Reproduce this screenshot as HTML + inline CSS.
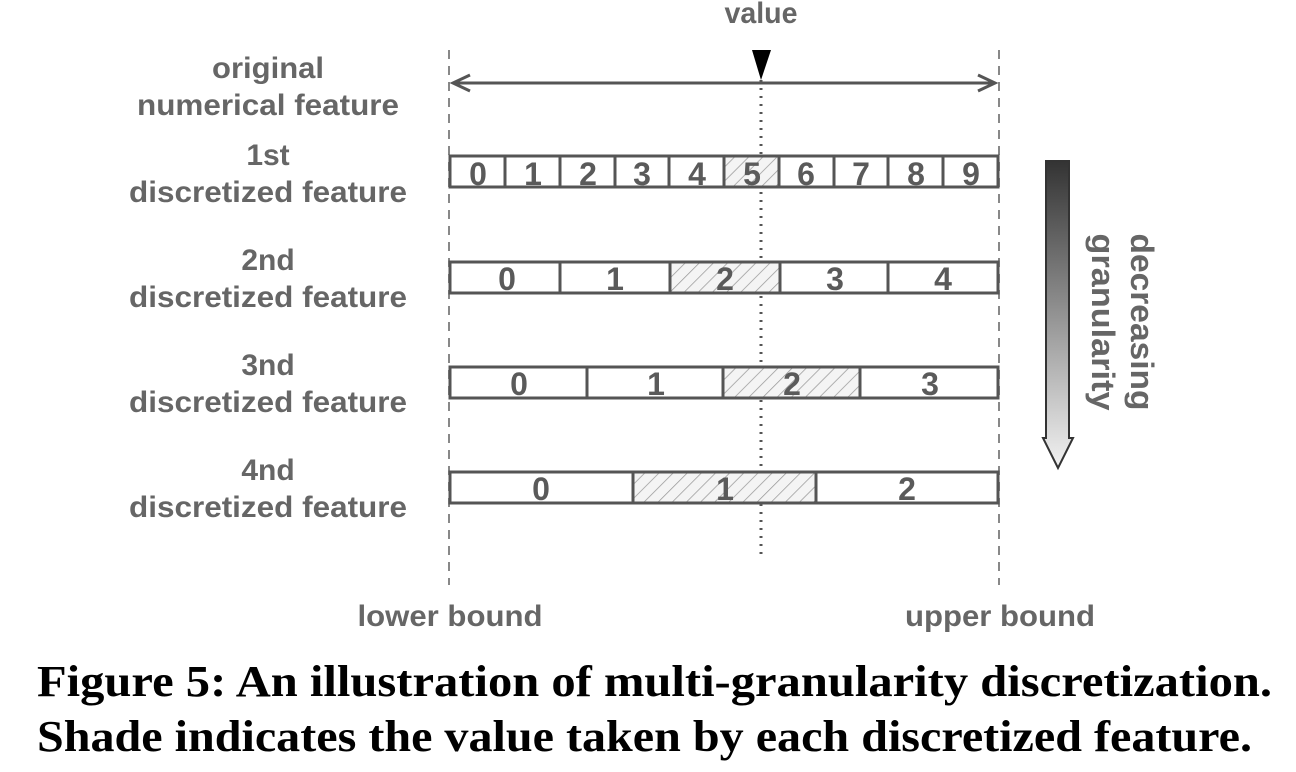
<!DOCTYPE html>
<html><head><style>body{margin:0;background:#fff}svg{display:block}</style></head>
<body>
<svg width="1296" height="772" xmlns="http://www.w3.org/2000/svg">
<defs>
<pattern id="h" patternUnits="userSpaceOnUse" width="10" height="10" patternTransform="rotate(45)">
<rect width="10" height="10" fill="#f4f4f4"/><line x1="0" y1="0" x2="0" y2="10" stroke="#999" stroke-width="1.5"/>
</pattern>
<linearGradient id="g" x1="0" y1="0" x2="0" y2="1"><stop offset="0" stop-color="#333"/><stop offset="1" stop-color="#f2f2f2"/></linearGradient>
</defs>
<g stroke="#888" stroke-width="2" stroke-dasharray="9,7"><line x1="449" y1="50" x2="449" y2="585"/><line x1="999" y1="50" x2="999" y2="585"/></g>
<line x1="761" y1="80" x2="761" y2="560" stroke="#555" stroke-width="3" stroke-dasharray="2,6"/>
<g stroke="#555" stroke-width="3" fill="none"><line x1="453" y1="83" x2="995" y2="83"/><polyline points="470,75 453,83 470,91"/><polyline points="978,75 995,83 978,91"/></g>
<polygon points="752,50 771,50 761,80" fill="#000"/>
<g fill="url(#h)"><rect x="724" y="156" width="55" height="31"/><rect x="670" y="262" width="110" height="31"/><rect x="723" y="367" width="137" height="31"/><rect x="633" y="472" width="183" height="31"/></g>
<g stroke="#555" stroke-width="3" fill="none">
<rect x="450" y="156" width="548" height="31"/>
<path d="M505 156V187M560 156V187M615 156V187M669 156V187M724 156V187M779 156V187M834 156V187M888 156V187M943 156V187"/>
<rect x="450" y="262" width="548" height="31"/><path d="M560 262V293M670 262V293M780 262V293M888 262V293"/>
<rect x="450" y="367" width="548" height="31"/><path d="M587 367V398M723 367V398M860 367V398"/>
<rect x="450" y="472" width="548" height="31"/><path d="M633 472V503M816 472V503"/>
</g>
<g font-family="Liberation Sans, sans-serif" font-weight="bold" fill="#5a5a5a" font-size="32" text-anchor="middle">
<text x="478" y="185">0</text><text x="533" y="185">1</text><text x="588" y="185">2</text><text x="642" y="185">3</text><text x="697" y="185">4</text><text x="752" y="185">5</text><text x="806" y="185">6</text><text x="861" y="185">7</text><text x="916" y="185">8</text><text x="971" y="185">9</text>
<text x="507" y="290">0</text><text x="615" y="290">1</text><text x="725" y="290">2</text><text x="835" y="290">3</text><text x="943" y="290">4</text>
<text x="519" y="395">0</text><text x="656" y="395">1</text><text x="792" y="395">2</text><text x="930" y="395">3</text>
<text x="541" y="500">0</text><text x="725" y="500">1</text><text x="907" y="500">2</text>
</g>
<g font-family="Liberation Sans, sans-serif" font-weight="bold" fill="#666" font-size="30" text-anchor="middle">
<text x="761" y="23" textLength="73" lengthAdjust="spacingAndGlyphs">value</text>
<text x="268" y="78" textLength="112" lengthAdjust="spacingAndGlyphs">original</text><text x="268" y="115" textLength="262" lengthAdjust="spacingAndGlyphs">numerical feature</text>
<text x="268" y="165">1st</text><text x="268" y="202" textLength="278" lengthAdjust="spacingAndGlyphs">discretized feature</text>
<text x="268" y="270">2nd</text><text x="268" y="307" textLength="278" lengthAdjust="spacingAndGlyphs">discretized feature</text>
<text x="268" y="375">3nd</text><text x="268" y="412" textLength="278" lengthAdjust="spacingAndGlyphs">discretized feature</text>
<text x="268" y="480">4nd</text><text x="268" y="517" textLength="278" lengthAdjust="spacingAndGlyphs">discretized feature</text>
<text x="450" y="626" textLength="185" lengthAdjust="spacingAndGlyphs">lower bound</text><text x="1000" y="626" textLength="190" lengthAdjust="spacingAndGlyphs">upper bound</text>
<text transform="translate(1131,322) rotate(90)" font-size="32" textLength="177" lengthAdjust="spacingAndGlyphs">decreasing</text>
<text transform="translate(1092,322) rotate(90)" font-size="32" textLength="177" lengthAdjust="spacingAndGlyphs">granularity</text>
</g>
<path d="M1046 161H1069V438H1073L1058 468L1043 438H1046Z" fill="url(#g)" stroke="#333" stroke-width="2"/>
<g font-family="Liberation Serif, serif" font-weight="bold" font-size="44" fill="#000">
<text x="37" y="696" textLength="1235" lengthAdjust="spacingAndGlyphs">Figure 5: An illustration of multi-granularity discretization.</text>
<text x="37" y="751" textLength="1215" lengthAdjust="spacingAndGlyphs">Shade indicates the value taken by each discretized feature.</text>
</g>
</svg>
</body></html>
